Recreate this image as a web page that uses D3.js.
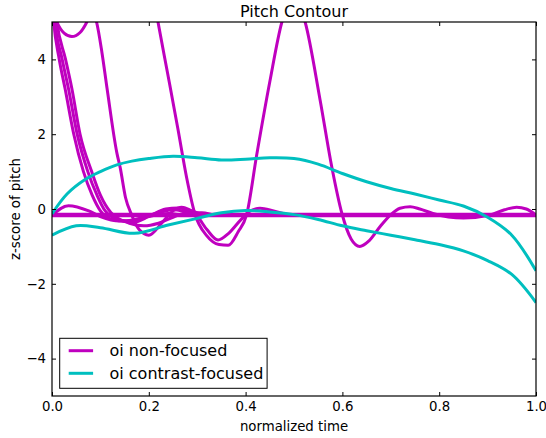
<!DOCTYPE html>
<html><head><meta charset="utf-8">
<script src="https://cdn.jsdelivr.net/npm/d3@7"></script>
<style>body{margin:0;background:#fff;} svg{display:block;font-family:"DejaVu Sans",sans-serif;}</style>
</head><body><svg id="c" width="546" height="438"></svg>
<script>
// ---- data (normalized time, z-score) ----
const xTicks = [0, 0.2, 0.4, 0.6, 0.8, 1.0];
const yTicks = [-4, -2, 0, 2, 4];
const legendLabels = ["oi non-focused", "oi contrast-focused"];

const nonFocusedFlat1 = [[0, -0.14], [1, -0.14]];
const nonFocusedFlat2 = [[0, -0.16], [1, -0.16]];
const nonFocusedFlat3 = [[0, -0.18], [1, -0.18]];
const nonFocusedA = [[0, 5.35], [0.01, 5.0], [0.025, 4.7], [0.041, 4.61], [0.058, 4.72], [0.072, 5.0], [0.082, 5.3], [0.092, 5.0], [0.103, 4.2], [0.114, 3.2], [0.134, 1.5], [0.141, 1.1], [0.152, 0.3], [0.165, -0.17], [0.18, -0.55], [0.2, -0.7], [0.227, -0.37], [0.25, -0.05], [0.268, 0.05], [0.29, -0.05], [0.32, -0.17], [1, -0.17]];
const nonFocusedB1 = [[0, 5.6], [0.0035, 5.0], [0.015, 4.0], [0.027, 3.22], [0.045, 2.0], [0.065, 1.0], [0.083, 0.37], [0.1, -0.05], [0.125, -0.28], [0.15, -0.32], [0.18, -0.25], [0.22, -0.1], [0.25, -0.02], [0.28, -0.08], [0.32, -0.17], [1, -0.17]];
const nonFocusedB2 = [[0, 5.9], [0.006, 5.0], [0.021, 4.0], [0.034, 3.22], [0.052, 2.0], [0.074, 1.0], [0.093, 0.37], [0.11, -0.05], [0.14, -0.3], [0.17, -0.35], [0.2, -0.2], [0.235, 0.0], [0.26, 0.03], [0.3, -0.2], [0.32, -0.55], [0.343, -0.83], [0.365, -0.65], [0.39, -0.29], [0.41, -0.05], [0.43, 0.02], [0.46, -0.06], [0.5, -0.17], [1, -0.17]];
const nonFocusedB3 = [[0, 6.2], [0.01, 5.0], [0.028, 4.0], [0.041, 3.22], [0.058, 2.0], [0.082, 1.0], [0.1, 0.37], [0.122, -0.1], [0.16, -0.38], [0.19, -0.45], [0.22, -0.38], [0.25, -0.22], [0.28, -0.1], [0.31, -0.1], [0.34, -0.17], [1, -0.17]];
const nonFocusedC = [[0.19, 7.2], [0.219, 5.0], [0.24, 3.55], [0.26, 2.15], [0.278, 0.85], [0.295, -0.12], [0.32, -0.72], [0.345, -0.95], [0.364, -0.97], [0.385, -0.6], [0.402, -0.16], [0.423, 1.45], [0.45, 3.4], [0.475, 5.0], [0.5, 5.7], [0.523, 5.0], [0.554, 2.91], [0.578, 1.13], [0.599, -0.12], [0.618, -0.8], [0.636, -1.0], [0.655, -0.85], [0.678, -0.47], [0.7, -0.15], [0.719, 0.02], [0.74, 0.06], [0.76, 0.0], [0.787, -0.12], [0.85, -0.24], [0.905, -0.16], [0.935, -0.02], [0.96, 0.05], [0.98, 0.0], [1.0, -0.16]];
const nonFocusedE = [[0, -0.17], [0.034, 0.09], [0.076, -0.05], [0.1, -0.2], [0.14, -0.32], [0.17, -0.3], [0.2, -0.2], [0.24, -0.12], [0.28, -0.17], [1, -0.17]];

const contrastUpper = [[0, -0.13], [0.031, 0.4], [0.07, 0.8], [0.1, 1.0], [0.134, 1.18], [0.165, 1.28], [0.2, 1.35], [0.25, 1.41], [0.3, 1.37], [0.35, 1.31], [0.4, 1.33], [0.45, 1.37], [0.5, 1.35], [0.55, 1.2], [0.6, 0.95], [0.65, 0.73], [0.7, 0.55], [0.75, 0.4], [0.8, 0.24], [0.85, 0.08], [0.9, -0.22], [0.95, -0.7], [1.0, -1.65]];
const contrastLower = [[0, -0.7], [0.05, -0.45], [0.1, -0.5], [0.17, -0.65], [0.24, -0.43], [0.3, -0.25], [0.35, -0.1], [0.4, -0.04], [0.45, -0.08], [0.5, -0.15], [0.55, -0.28], [0.6, -0.45], [0.65, -0.58], [0.7, -0.7], [0.75, -0.82], [0.8, -0.95], [0.85, -1.12], [0.9, -1.38], [0.95, -1.75], [1.0, -2.5]];

const nonFocusedSeries = [nonFocusedFlat1, nonFocusedFlat2, nonFocusedFlat3, nonFocusedE, nonFocusedB1, nonFocusedB2, nonFocusedB3, nonFocusedA, nonFocusedC];
const contrastSeries = [contrastUpper, contrastLower];

// ---- drawing ----
const magenta = "#bf00bf", cyan = "#00bfbf";
const svg = d3.select("#c");
const L = 52, R = 536, T = 22, B = 396;
const x = d3.scaleLinear().domain([0, 1]).range([L, R]);
const y = d3.scaleLinear().domain([-5, 5]).range([B, T]);

svg.append("defs").append("clipPath").attr("id", "clip")
  .append("rect").attr("x", L).attr("y", T).attr("width", R - L).attr("height", B - T);

const line = d3.line().x(d => x(d[0])).y(d => y(d[1])).curve(d3.curveMonotoneX);
const smoothLine = d3.line().x(d => x(d[0])).y(d => y(d[1])).curve(d3.curveCatmullRom.alpha(0.5));
const g = svg.append("g").attr("clip-path", "url(#clip)");
nonFocusedSeries.forEach(s => g.append("path").attr("d", line(s)).attr("fill", "none")
  .attr("stroke", magenta).attr("stroke-width", 3).attr("stroke-linejoin", "round"));
contrastSeries.forEach(s => g.append("path").attr("d", smoothLine(s)).attr("fill", "none")
  .attr("stroke", cyan).attr("stroke-width", 3).attr("stroke-linejoin", "round"));

// axes (inward ticks on all sides)
const fmtX = d3.format(".1f");
const fmtY = v => (v < 0 ? "\u2212" + Math.abs(v) : String(v));
const ax = (sel) => { sel.select(".domain").remove(); sel.selectAll(".tick line").attr("stroke", "#000"); sel.selectAll("text").attr("fill", "#000").style("font-size", "13.3px").style("font-family", "DejaVu Sans, sans-serif"); };
svg.append("g").attr("transform", `translate(0,${B})`)
  .call(d3.axisBottom(x).tickValues(xTicks).tickFormat(fmtX).tickSizeInner(-4).tickSizeOuter(0).tickPadding(6)).call(ax);
svg.append("g").attr("transform", `translate(0,${T})`)
  .call(d3.axisTop(x).tickValues(xTicks).tickFormat("").tickSizeInner(-4).tickSizeOuter(0)).call(ax);
svg.append("g").attr("transform", `translate(${L},0)`)
  .call(d3.axisLeft(y).tickValues(yTicks).tickFormat(fmtY).tickSizeInner(-4).tickSizeOuter(0).tickPadding(6)).call(ax);
svg.append("g").attr("transform", `translate(${R},0)`)
  .call(d3.axisRight(y).tickValues(yTicks).tickFormat("").tickSizeInner(-4).tickSizeOuter(0)).call(ax);

svg.append("rect").attr("x", L).attr("y", T).attr("width", R - L).attr("height", B - T)
  .attr("fill", "none").attr("stroke", "#000").attr("stroke-width", 1.2);

// title and labels
svg.append("text").attr("x", (L + R) / 2).attr("y", 16.7).attr("text-anchor", "middle")
  .style("font-size", "16px").text("Pitch Contour");
svg.append("text").attr("x", (L + R) / 2).attr("y", 430.5).attr("text-anchor", "middle")
  .style("font-size", "13.3px").text("normalized time");
svg.append("text").attr("transform", `translate(20,${(T + B) / 2}) rotate(-90)`).attr("text-anchor", "middle")
  .style("font-size", "13.3px").text("z-score of pitch");

// legend
const lg = svg.append("g");
lg.append("rect").attr("x", 59.7).attr("y", 338.3).attr("width", 207.4).attr("height", 50)
  .attr("fill", "#fff").attr("stroke", "#000").attr("stroke-width", 1);
[magenta, cyan].forEach((c, i) => {
  const yy = 350.7 + i * 22.6;
  lg.append("line").attr("x1", 68.7).attr("x2", 93.1).attr("y1", yy).attr("y2", yy)
    .attr("stroke", c).attr("stroke-width", 3);
  lg.append("text").attr("x", 109.5).attr("y", yy + 5.6).style("font-size", "16px").text(legendLabels[i]);
});
</script></body></html>
